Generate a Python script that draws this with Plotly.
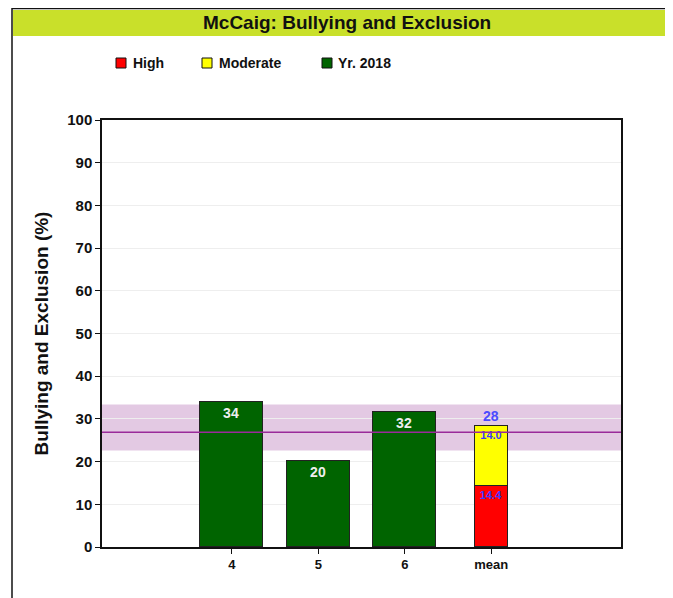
import plotly.graph_objects as go

categories = ["4", "5", "6", "mean"]
year_values = [33.9, 20.2, 31.6]
year_labels = ["34", "20", "32"]
high_value = [14.4]
moderate_value = [14.0]
mean_total_label = "28"
band_low, band_mid, band_high = 22.6, 26.9, 33.4
legend_names = ["High", "Moderate", "Yr. 2018"]
legend_colors = ["#ff0000", "#ffff00", "#006400"]

# page has an 8px body margin; work in reference-pixel coordinates and shift
OFF = 8
W, H = 673 - OFF, 598 - OFF
L, R, T, B = 102 - OFF, 52, 120 - OFF, 51
pw, ph = W - L - R, H - T - B

def px(x):
    return (x - OFF - L) / pw

def py(y):
    return (H - B - (y - OFF)) / ph

FONT = "Liberation Sans"

fig = go.Figure()
fig.add_trace(go.Bar(
    name="High", x=["mean"], y=high_value, width=0.38,
    marker=dict(color=legend_colors[0], line=dict(color="#222222", width=1)),
    text=[f"{v:.1f}" for v in high_value], textposition="inside",
    insidetextanchor="end", textangle=0,
    textfont=dict(color="#3a3aff", size=11, family=FONT, weight="bold"),
))
fig.add_trace(go.Bar(
    name="Moderate", x=["mean"], y=moderate_value, width=0.38,
    marker=dict(color=legend_colors[1], line=dict(color="#222222", width=1)),
    text=[f"{v:.1f}" for v in moderate_value], textposition="inside",
    insidetextanchor="end", textangle=0,
    textfont=dict(color="#3a3aff", size=11, family=FONT, weight="bold"),
))
fig.add_trace(go.Bar(
    name="Yr. 2018", x=categories[:3], y=year_values, width=0.73,
    marker=dict(color=legend_colors[2], line=dict(color="#222222", width=1)),
    text=year_labels, textposition="inside", insidetextanchor="end", textangle=0,
    textfont=dict(color="#eeeeee", size=14, family=FONT, weight="bold"),
))

shapes = [
    dict(type="rect", xref="paper", yref="y", x0=0, x1=1, y0=band_low, y1=band_high,
         fillcolor="#e3c9e3", line=dict(width=0), layer="below"),
    dict(type="line", xref="paper", yref="y", x0=0, x1=1, y0=band_mid, y1=band_mid,
         line=dict(color="#9a2a9a", width=1.5), layer="above"),
    # title band
    dict(type="rect", xref="paper", yref="paper", x0=px(13), x1=px(680), y0=py(36), y1=py(10),
         fillcolor="#c9e02a", line=dict(width=0)),
    # outer frame
    dict(type="line", xref="paper", yref="paper", x0=px(12), x1=px(12), y0=py(8), y1=py(600),
         line=dict(color="#111111", width=1.5)),
    dict(type="line", xref="paper", yref="paper", x0=px(12), x1=px(680), y0=py(8.5), y1=py(8.5),
         line=dict(color="#111111", width=1.5)),
]

annotations = [
    dict(text="McCaig: Bullying and Exclusion", xref="paper", yref="paper",
         x=px(347), y=py(23), showarrow=False, xanchor="center", yanchor="middle",
         font=dict(size=19, color="#111111", family=FONT, weight="bold")),
    dict(text=mean_total_label, x="mean", y=high_value[0] + moderate_value[0], yanchor="bottom",
         showarrow=False,
         font=dict(size=14, color="#4b4bff", family=FONT, weight="bold")),
]

# manual legend (squares + labels)
sq_left = [116, 202, 322]
txt_left = [131, 217, 336]
for name, col, sx, tx in zip(legend_names, legend_colors, sq_left, txt_left):
    shapes.append(dict(type="rect", xref="paper", yref="paper",
                       x0=px(sx), x1=px(sx + 10), y0=py(68), y1=py(58),
                       fillcolor=col, line=dict(color="#111111", width=1)))
    annotations.append(dict(text=name, xref="paper", yref="paper", x=px(tx), y=py(63),
                            xanchor="left", yanchor="middle", showarrow=False,
                            font=dict(size=14, family=FONT, color="#111111", weight="bold")))

fig.update_layout(
    width=W, height=H,
    margin=dict(l=L, r=R, t=T, b=B),
    paper_bgcolor="white", plot_bgcolor="white",
    barmode="stack", bargap=0,
    showlegend=False,
    shapes=shapes, annotations=annotations,
    font=dict(family=FONT),
    xaxis=dict(type="category", categoryorder="array", categoryarray=categories,
               range=[-1.5, 4.5], showgrid=False,
               showline=True, linecolor="#111111", linewidth=1.5, mirror=True,
               ticks="outside", ticklen=5, tickcolor="#111111",
               tickfont=dict(size=13, family=FONT, color="#111111", weight="bold")),
    yaxis=dict(range=[0, 100], dtick=10, showgrid=True, gridcolor="#eeeeee",
               showline=True, linecolor="#111111", linewidth=1.5, mirror=True,
               ticks="outside", ticklen=5, tickcolor="#111111", zeroline=False,
               tickfont=dict(size=15, family=FONT, color="#111111", weight="bold"),
               title=dict(text="Bullying and Exclusion (%)", standoff=14,
                          font=dict(size=19, family=FONT, color="#111111", weight="bold"))),
)

fig.write_html("out.html")
